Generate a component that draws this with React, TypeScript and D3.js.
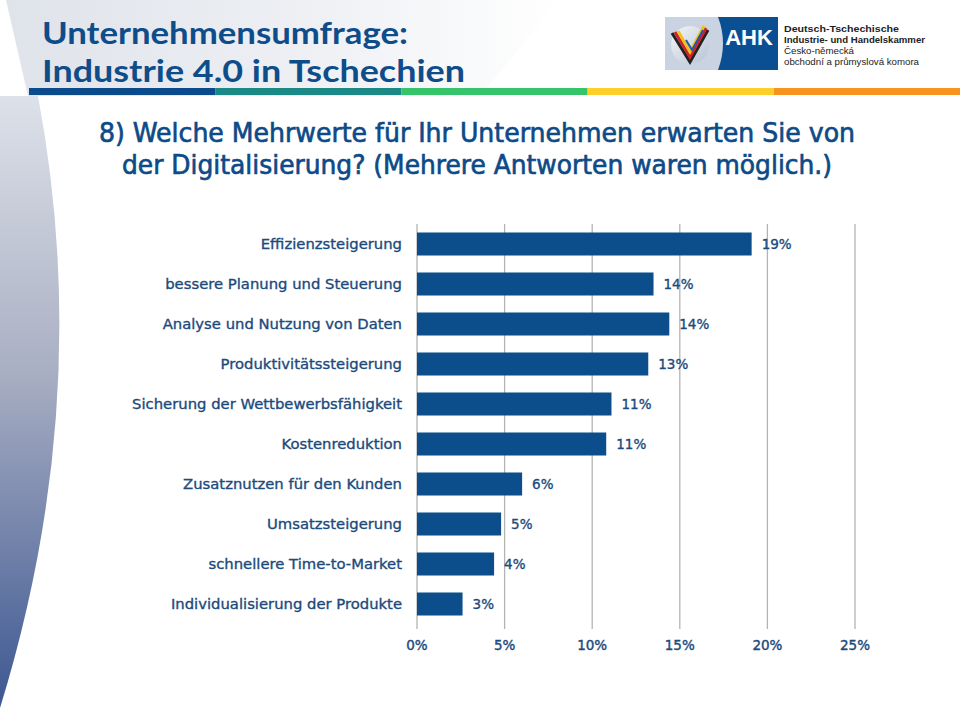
import React from "react";
import * as d3 from "d3";

const categories = [
  "Effizienzsteigerung",
  "bessere Planung und Steuerung",
  "Analyse und Nutzung von Daten",
  "Produktivitätssteigerung",
  "Sicherung der Wettbewerbsfähigkeit",
  "Kostenreduktion",
  "Zusatznutzen für den Kunden",
  "Umsatzsteigerung",
  "schnellere Time-to-Market",
  "Individualisierung der Produkte",
];
const values = [19.1, 13.5, 14.4, 13.2, 11.1, 10.8, 6.0, 4.8, 4.4, 2.6];
const valueLabels = ["19%", "14%", "14%", "13%", "11%", "11%", "6%", "5%", "4%", "3%"];
const ticks = [0, 5, 10, 15, 20, 25];
const titleLines = ["Unternehmensumfrage:", "Industrie 4.0 in Tschechien"];
const questionLines = [
  "8) Welche Mehrwerte für Ihr Unternehmen erwarten Sie von",
  "der Digitalisierung? (Mehrere Antworten waren möglich.)",
];
const logoLines = [
  "Deutsch-Tschechische",
  "Industrie- und Handelskammer",
  "Česko-německá",
  "obchodní a průmyslová komora",
];
const stripeColors = ["#0b4a8b", "#1b8a86", "#36c46a", "#fccf2a", "#f7941d"];

const W = 960;
const H = 717;

export default function App() {
  const x = d3.scaleLinear().domain([0, 25]).range([417, 855]);
  const y = d3
    .scaleBand<string>()
    .domain(categories)
    .range([224, 624])
    .paddingInner(0.425)
    .paddingOuter(0.2125);

  const stripeX = d3.scaleLinear().domain([0, 5]).range([29, 960]);
  const leftShape = "M0,96 L38,96 Q95,400 0,708 Z";
  const blue = "#1b4a7c";
  const font = "'DejaVu Sans', Verdana, sans-serif";

  return (
    <svg
      width={W}
      height={H}
      viewBox={`0 0 ${W} ${H}`}
      style={{ position: "absolute", left: 0, top: 0, background: "#fff" }}
    >
      <defs>
        <linearGradient id="hdr" x1="0" y1="0" x2="1" y2="0">
          <stop offset="0" stopColor="#dfe3ea" />
          <stop offset="0.55" stopColor="#eef0f4" />
          <stop offset="1" stopColor="#ffffff" />
        </linearGradient>
        <linearGradient id="side" x1="0" y1="0" x2="0" y2="1">
          <stop offset="0" stopColor="#dde1e9" />
          <stop offset="0.45" stopColor="#a9afc3" />
          <stop offset="1" stopColor="#3d5792" />
        </linearGradient>
        <linearGradient id="emb" x1="0" y1="0" x2="1" y2="1">
          <stop offset="0" stopColor="#f4f6f9" />
          <stop offset="1" stopColor="#b7c2d3" />
        </linearGradient>
      </defs>

      <rect x={0} y={0} width={W} height={H} fill="#fff" />
      {/* header background */}
      <polygon points="6,0 560,0 480,96 28,96" fill="url(#hdr)" />
      <path d={leftShape} fill="url(#side)" />

      {/* title */}
      {titleLines.map((t, i) => (
        <text
          key={t}
          x={42}
          y={44 + i * 38}
          fontFamily="Lato, 'Open Sans', sans-serif"
          fontWeight={700}
          fontSize={31}
          fill="#0e4d8a"
          textLength={i === 0 ? 366 : 423}
          lengthAdjust="spacingAndGlyphs"
        >
          {t}
        </text>
      ))}

      {/* stripe */}
      {stripeColors.map((c, i) => (
        <rect key={c} x={stripeX(i)} y={88} width={stripeX(i + 1) - stripeX(i)} height={7} fill={c} />
      ))}

      {/* logo */}
      <rect x={665} y={17} width={113} height={53} fill="#c9d3e2" />
      <path d="M718,17 L778,17 L778,70 L718,70 Q728,43 718,17 Z" fill="#0b4f93" />
      <circle cx={690} cy={45} r={19} fill="url(#emb)" />
      <path d="M672,33 L690,62 L708,30" fill="none" stroke="#222" strokeWidth={3} />
      <path d="M675,32 L690,57 L706,28" fill="none" stroke="#d0202a" strokeWidth={3} />
      <path d="M678,31 L690,52 L704,26" fill="none" stroke="#f2c21a" strokeWidth={3} />
      <path d="M686,40 L692,50 L703,30" fill="none" stroke="#1f5aa8" strokeWidth={2} />
      <text
        x={749}
        y={45}
        textAnchor="middle"
        fontFamily="'Liberation Sans', Arial, sans-serif"
        fontWeight={700}
        fontSize={22}
        fill="#fff"
      >
        AHK
      </text>
      {logoLines.map((t, i) => (
        <text
          key={t}
          x={784}
          y={32 + i * 11}
          fontFamily="'Liberation Sans', Arial, sans-serif"
          fontWeight={i < 2 ? 700 : 400}
          fontSize={9.5}
          fill="#222"
          textLength={[115, 141, 70, 135][i]}
          lengthAdjust="spacingAndGlyphs"
        >
          {t}
        </text>
      ))}

      {/* question */}
      {questionLines.map((t, i) => (
        <text
          key={t}
          x={i === 0 ? 99 : 122}
          y={142 + i * 32}
          fontFamily="'DejaVu Sans Condensed', 'DejaVu Sans', sans-serif"
          fontStretch="condensed"
          fontSize={26}
          fill="#0d4a87"
          stroke="#0d4a87"
          strokeWidth={0.6}
          textLength={i === 0 ? 756 : 710}
          lengthAdjust="spacingAndGlyphs"
        >
          {t}
        </text>
      ))}

      {/* gridlines */}
      {ticks.map((t) => (
        <line
          key={t}
          x1={x(t)}
          x2={x(t)}
          y1={224}
          y2={629}
          stroke="#b4b4b4"
          strokeWidth={1.3}
        />
      ))}

      {/* bars */}
      {categories.map((c, i) => (
        <g key={c}>
          <rect
            x={x(0)}
            y={y(c)}
            width={x(values[i]) - x(0)}
            height={y.bandwidth()}
            fill="#0b4e8b"
          />
          <text
            x={x(values[i]) + 10}
            y={(y(c) as number) + y.bandwidth() / 2}
            dy="0.36em"
            fontFamily={font}
            fontSize={13.5}
            fill={blue}
            stroke={blue}
            strokeWidth={0.35}
          >
            {valueLabels[i]}
          </text>
          <text
            x={402}
            y={(y(c) as number) + y.bandwidth() / 2}
            dy="0.36em"
            textAnchor="end"
            fontFamily={font}
            fontSize={14.8}
            fill={blue}
            stroke={blue}
            strokeWidth={0.35}
          >
            {c}
          </text>
        </g>
      ))}

      {/* axis labels */}
      {ticks.map((t) => (
        <text
          key={t}
          x={x(t)}
          y={645}
          dy="0.36em"
          textAnchor="middle"
          fontFamily={font}
          fontSize={13.5}
          fill={blue}
          stroke={blue}
          strokeWidth={0.4}
        >
          {`${t}%`}
        </text>
      ))}
    </svg>
  );
}
